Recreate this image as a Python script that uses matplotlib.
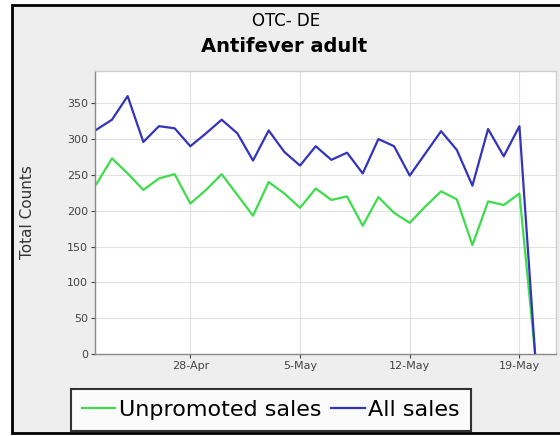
import matplotlib
matplotlib.use("Agg")
import matplotlib.pyplot as plt
from matplotlib.patches import Rectangle
import datetime as dt

dates = ["2013-04-22", "2013-04-23", "2013-04-24", "2013-04-25", "2013-04-26", "2013-04-27",
         "2013-04-28", "2013-04-29", "2013-04-30", "2013-05-01", "2013-05-02", "2013-05-03",
         "2013-05-04", "2013-05-05", "2013-05-06", "2013-05-07", "2013-05-08", "2013-05-09",
         "2013-05-10", "2013-05-11", "2013-05-12", "2013-05-13", "2013-05-14", "2013-05-15",
         "2013-05-16", "2013-05-17", "2013-05-18", "2013-05-19", "2013-05-20"]
all_sales = [313, 327, 360, 296, 318, 315, 290, 308, 327, 308, 270, 312, 282, 263,
             290, 271, 281, 252, 300, 290, 249, 280, 311, 285, 235, 314, 276, 318, 0]
unpromoted = [237, 273, 252, 229, 245, 251, 210, 229, 251, 222, 193, 240, 224, 204,
              231, 215, 220, 179, 219, 197, 183, 206, 227, 216, 152, 213, 208, 224, 0]
tick_labels = ["28-Apr", "5-May", "12-May", "19-May"]
tick_dates = ["2013-04-28", "2013-05-05", "2013-05-12", "2013-05-19"]

x = [dt.datetime.strptime(d, "%Y-%m-%d") for d in dates]
xt = [dt.datetime.strptime(d, "%Y-%m-%d") for d in tick_dates]

W, H = 560, 436
fig = plt.figure(figsize=(W / 100, H / 100), dpi=100)
fig.patch.set_facecolor("white")
fig.patches.append(Rectangle((12 / W, 1 - 433 / H), (W + 10 - 12) / W, (433 - 5) / H,
                             transform=fig.transFigure, facecolor="#eeeeee",
                             edgecolor="black", linewidth=2, zorder=-5))

ax = fig.add_axes([95 / W, 1 - 354 / H, (556 - 95) / W, (354 - 71) / H])
ax.set_facecolor("white")
ax.plot(x, unpromoted, color="#3ddc4a", lw=1.6, label="Unpromoted sales")
ax.plot(x, all_sales, color="#3333bb", lw=1.6, label="All sales")

ax.set_ylim(0, 395)
ax.set_xlim(dt.datetime(2013, 4, 21, 22), dt.datetime(2013, 5, 21, 8))
ax.set_yticks(range(0, 351, 50))
ax.set_xticks(xt)
ax.set_xticklabels(tick_labels)
ax.tick_params(labelsize=8, colors="#444444", length=3, width=0.8, pad=2)
ax.grid(True, color="#e2e2e2", lw=0.8)
for s in ax.spines.values():
    s.set_color("#888888")
    s.set_linewidth(1)
ax.spines["top"].set_color("#cccccc")
ax.spines["right"].set_color("#cccccc")
ax.set_ylabel("Total Counts", fontsize=11, color="#333333")
ax.yaxis.set_label_coords((35 - 95) / (556 - 95), 0.5)

fig.text(286 / W, 1 - 21 / H, "OTC- DE", ha="center", va="center", fontsize=12)
fig.text(284 / W, 1 - 47 / H, "Antifever adult", ha="center", va="center",
         fontsize=14, fontweight="bold")

leg = fig.legend(loc="lower left", bbox_to_anchor=(71 / W, 1 - 431 / H), ncol=2,
                 fontsize=16, frameon=True, fancybox=False, handlelength=1.5,
                 handletextpad=0.15, columnspacing=0.45, borderpad=0.5,
                 borderaxespad=0)
leg.get_frame().set_edgecolor("black")
leg.get_frame().set_linewidth(1.5)
leg.get_frame().set_facecolor("white")

fig.savefig("out.png", dpi=100)
